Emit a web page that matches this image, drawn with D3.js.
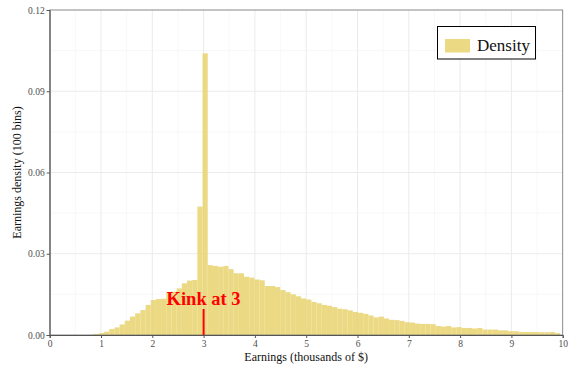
<!DOCTYPE html>
<html><head><meta charset="utf-8">
<script src="https://cdn.jsdelivr.net/npm/d3@7/dist/d3.min.js"></script>
<style>body{margin:0;background:#fff}svg{display:block}text{font-family:"Liberation Serif","DejaVu Serif",serif}</style>
</head><body><svg id="c" width="574" height="366"></svg>
<script>
// Histogram: 99 bins of width 10/99 centred on k*10/99 (k = 0..98)
const binWidth = 10 / 99;
const density = [
  0,0,0,0,0,0,0,0,0.0001,0.0004,
  0.0007,0.0012,0.0022,0.0028,0.0039,0.0053,0.0068,0.0080,0.0092,0.0111,
  0.0129,0.0133,0.0134,0.0155,0.0160,0.0172,0.0191,0.0201,0.0203,0.0474,
  0.1040,0.0258,0.0255,0.0252,0.0255,0.0243,0.0228,0.0228,0.0215,0.0212,
  0.0205,0.0202,0.0181,0.0181,0.0177,0.0166,0.0158,0.0150,0.0143,0.0135,
  0.0131,0.0122,0.0117,0.0111,0.0108,0.0103,0.0097,0.0095,0.0091,0.0085,
  0.0082,0.0078,0.0072,0.0065,0.0068,0.0061,0.0056,0.0055,0.0052,0.0047,
  0.0046,0.0042,0.0041,0.0041,0.0040,0.0033,0.0031,0.0033,0.0028,0.0029,
  0.0026,0.0026,0.0024,0.0026,0.0020,0.0020,0.0020,0.0017,0.0017,0.0014,
  0.0014,0.0011,0.0011,0.0011,0.0011,0.0010,0.0010,0.0011,0.0007
];
const xTicks = [0,1,2,3,4,5,6,7,8,9,10];
const xMinor = [0.5,1.5,2.5,3.5,4.5,5.5,6.5,7.5,8.5,9.5];
const yTicks = [0, 0.03, 0.06, 0.09, 0.12];
const yMinor = [0.015, 0.045, 0.075, 0.105];
const kink = 3;
const kinkLabel = "Kink at 3";
const legendLabel = "Density";

const bins = density.map((d, k) => ({x0: k*binWidth - binWidth/2, x1: k*binWidth + binWidth/2, d}));

const svg = d3.select("#c");
const m = {l: 49.7, r: 562.7, t: 10, b: 335};
const x = d3.scaleLinear().domain([0, 10]).range([m.l, m.r]);
const y = d3.scaleLinear().domain([0, 0.12]).range([m.b, m.t]);

const g = svg.append("g");
// grid
g.selectAll(".gmx").data(xMinor).enter().append("line")
  .attr("x1", d=>x(d)).attr("x2", d=>x(d)).attr("y1", m.t).attr("y2", m.b)
  .attr("stroke", "#f4f4f4").attr("stroke-width", 0.6);
g.selectAll(".gmy").data(yMinor).enter().append("line")
  .attr("y1", d=>y(d)).attr("y2", d=>y(d)).attr("x1", m.l).attr("x2", m.r)
  .attr("stroke", "#f4f4f4").attr("stroke-width", 0.6);
g.selectAll(".gx").data(xTicks).enter().append("line")
  .attr("x1", d=>x(d)).attr("x2", d=>x(d)).attr("y1", m.t).attr("y2", m.b)
  .attr("stroke", "#ebebeb").attr("stroke-width", 1);
g.selectAll(".gy").data(yTicks).enter().append("line")
  .attr("y1", d=>y(d)).attr("y2", d=>y(d)).attr("x1", m.l).attr("x2", m.r)
  .attr("stroke", "#ebebeb").attr("stroke-width", 1);

// bars
g.selectAll(".bar").data(bins.filter(b => b.d > 0 && b.x1 <= 10)).enter().append("rect")
  .attr("x", b => x(b.x0)).attr("width", b => x(b.x1) - x(b.x0))
  .attr("y", b => y(b.d)).attr("height", b => y(0) - y(b.d))
  .attr("fill", "rgb(232,210,110)").attr("fill-opacity", 0.85);

// border
g.append("rect").attr("x", m.l).attr("y", m.t).attr("width", m.r - m.l).attr("height", m.b - m.t)
  .attr("fill", "none").attr("stroke", "#7a7a7a").attr("stroke-width", 0.8);

// axes
const xa = svg.append("g").attr("transform", `translate(0,${m.b})`)
  .call(d3.axisBottom(x).tickValues(xTicks).tickSize(3).tickPadding(2).tickFormat(d3.format("d")));
const ya = svg.append("g").attr("transform", `translate(${m.l},0)`)
  .call(d3.axisLeft(y).tickValues(yTicks).tickSize(3).tickPadding(2).tickFormat(d3.format(".2f")));
[xa, ya].forEach(a => {
  a.select(".domain").attr("stroke", "#555").attr("stroke-width", 1);
  a.selectAll(".tick line").attr("stroke", "#555");
  a.selectAll(".tick text").attr("fill", "#4d4d4d").attr("font-size", 9.5)
    .attr("font-family", "Liberation Serif, serif");
});

// kink
svg.append("line").attr("x1", x(kink)).attr("x2", x(kink)).attr("y1", 309).attr("y2", m.b)
  .attr("stroke", "#ff0000").attr("stroke-width", 2);
svg.append("text").attr("x", x(kink)).attr("y", 305).attr("text-anchor", "middle")
  .attr("fill", "#ff0000").attr("font-weight", "bold").attr("font-size", 18.5).text(kinkLabel);

// axis titles
svg.append("text").attr("x", (m.l + m.r)/2).attr("y", 361).attr("text-anchor", "middle")
  .attr("font-size", 12).attr("fill", "#111").text("Earnings (thousands of $)");
svg.append("text").attr("transform", `translate(21,${(m.t+m.b)/2}) rotate(-90)`).attr("text-anchor", "middle")
  .attr("font-size", 12).attr("fill", "#111").text("Earnings density (100 bins)");

// legend
const lg = svg.append("g");
lg.append("rect").attr("x", 437.5).attr("y", 26.5).attr("width", 98).attr("height", 32.5)
  .attr("fill", "#fff").attr("stroke", "#000").attr("stroke-width", 1);
lg.append("rect").attr("x", 445).attr("y", 39).attr("width", 25).attr("height", 13.5)
  .attr("fill", "rgb(232,210,110)").attr("fill-opacity", 0.85);
lg.append("text").attr("x", 477).attr("y", 51).attr("font-size", 17).attr("fill", "#111").text(legendLabel);
</script></body></html>
